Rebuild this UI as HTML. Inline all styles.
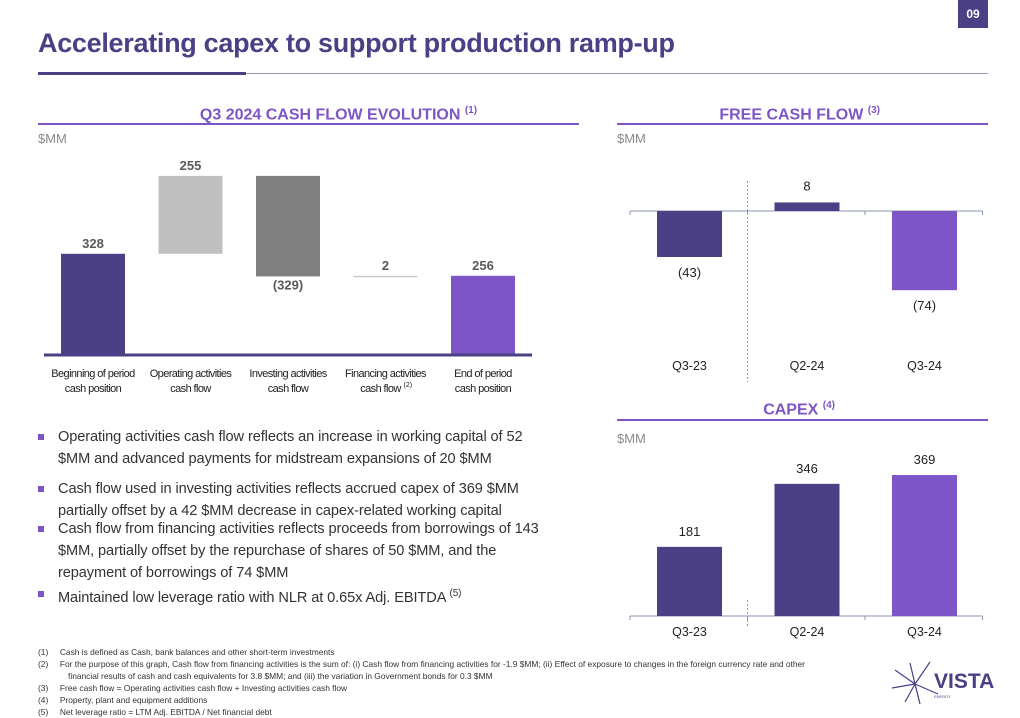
<!DOCTYPE html>
<html><head><meta charset="utf-8"><style>
body{margin:0;width:1020px;height:716px;background:#fff;font-family:"Liberation Sans",sans-serif;position:relative;overflow:hidden}
.abs{position:absolute}
.hdr{font-family:"Liberation Sans Narrow","Liberation Sans",sans-serif;font-weight:bold;color:#7d55c7;font-size:16px}
.mm{font-size:13px;color:#8a8a8a}
.bul{position:absolute;left:38px;font-size:14.6px;color:#333;line-height:22px;width:560px;letter-spacing:-0.1px}
.bul:before{content:"";position:absolute;left:0;top:8px;width:6px;height:6px;background:#7d55c7}
.bul span{display:block;padding-left:20px}
.fn{position:absolute;left:38px;top:647px;font-size:8.4px;color:#333;line-height:11.9px}
.fn div{padding-left:30px;text-indent:-30px;width:830px}
</style></head><body>
<div class="abs" style="left:958px;top:0;width:30px;height:28px;background:#4b3f86;color:#fff;font-weight:bold;font-size:12px;text-align:center;line-height:28px">09</div>
<div class="abs" style="left:38px;top:28px;font-size:27px;font-weight:bold;color:#4b3f86;letter-spacing:-0.3px">Accelerating capex to support production ramp-up</div>
<div class="abs" style="left:38px;top:73px;width:950px;height:1px;background:#9a98b0"></div>
<div class="abs" style="left:38px;top:72px;width:208px;height:3px;background:#4b3f86"></div>

<div class="abs hdr" style="left:38px;width:541px;top:105px;text-align:center;padding-left:60px;box-sizing:border-box">Q3 2024 CASH FLOW EVOLUTION <sup style="font-size:10px">(1)</sup></div>
<div class="abs" style="left:38px;top:123px;width:541px;height:2px;background:#7d55c7"></div>
<div class="abs mm" style="left:38px;top:131px">$MM</div>

<div class="abs hdr" style="left:617px;width:263px;top:105px;text-align:right">FREE CASH FLOW <sup style="font-size:10px">(3)</sup></div>
<div class="abs" style="left:617px;top:123px;width:371px;height:2px;background:#7d55c7"></div>
<div class="abs mm" style="left:617px;top:131px">$MM</div>

<div class="abs hdr" style="left:617px;width:218px;top:400px;text-align:right">CAPEX <sup style="font-size:10px">(4)</sup></div>
<div class="abs" style="left:617px;top:419px;width:371px;height:2px;background:#7d55c7"></div>
<div class="abs mm" style="left:617px;top:431px">$MM</div>

<svg class="abs" style="left:0;top:0" width="1020" height="716" id="svg"></svg>

<div class="bul" style="top:426px"><span>Operating activities cash flow reflects an increase in working capital of 52<br>$MM and advanced payments for midstream expansions of 20 $MM</span></div>
<div class="bul" style="top:478px"><span>Cash flow used in investing activities reflects accrued capex of 369 $MM<br>partially offset by a 42 $MM decrease in capex-related working capital</span></div>
<div class="bul" style="top:518px"><span>Cash flow from financing activities reflects proceeds from borrowings of 143<br>$MM, partially offset by the repurchase of shares of 50 $MM, and the<br>repayment of borrowings of 74 $MM</span></div>
<div class="bul" style="top:583px"><span>Maintained low leverage ratio with NLR at 0.65x Adj. EBITDA <sup style="font-size:10px">(5)</sup></span></div>

<div class="fn">
<div>(1)&nbsp;&nbsp;&nbsp;&nbsp;&nbsp;Cash is defined as Cash, bank balances and other short-term investments</div>
<div>(2)&nbsp;&nbsp;&nbsp;&nbsp;&nbsp;For the purpose of this graph, Cash flow from financing activities is the sum of: (i) Cash flow from financing activities for -1.9 $MM; (ii) Effect of exposure to changes in the foreign currency rate and other<br>financial results of cash and cash equivalents for 3.8 $MM; and (iii) the variation in Government bonds for 0.3 $MM</div>
<div>(3)&nbsp;&nbsp;&nbsp;&nbsp;&nbsp;Free cash flow = Operating activities cash flow + Investing activities cash flow</div>
<div>(4)&nbsp;&nbsp;&nbsp;&nbsp;&nbsp;Property, plant and equipment additions</div>
<div>(5)&nbsp;&nbsp;&nbsp;&nbsp;&nbsp;Net leverage ratio = LTM Adj. EBITDA / Net financial debt</div>
</div>

<div class="abs" style="left:890px;top:660px;width:100px;height:45px">
<svg width="50" height="45" style="position:absolute;left:0;top:0"><g stroke="#4b3f86" stroke-width="1.2"><line x1="25" y1="24" x2="5" y2="10"/><line x1="25" y1="24" x2="15" y2="42"/><line x1="25" y1="24" x2="40" y2="2"/><line x1="25" y1="24" x2="2" y2="28"/><line x1="25" y1="24" x2="30" y2="44"/><line x1="25" y1="24" x2="48" y2="34"/><line x1="25" y1="24" x2="20" y2="3"/></g></svg>
<div style="position:absolute;left:44px;top:10px;font-size:21px;font-weight:bold;color:#4b3f86">VISTA</div>
<div style="position:absolute;left:44px;top:34px;font-size:4px;color:#4b3f86">ENERGY</div>
</div>

<script>
const wfCats=["Beginning of period|cash position","Operating activities|cash flow","Investing activities|cash flow","Financing activities|cash flow","End of period|cash position"];
const wfValues=[328,255,-329,2,256];
const wfLabels=["328","255","(329)","2","256"];
const fcfCats=["Q3-23","Q2-24","Q3-24"];
const fcfValues=[-43,8,-74];
const fcfLabels=["(43)","8","(74)"];
const capexCats=["Q3-23","Q2-24","Q3-24"];
const capexValues=[181,346,369];
const capexLabels=["181","346","369"];

const svg=document.getElementById('svg');
const NS="http://www.w3.org/2000/svg";
function mk(tag,attrs,txt){const e=document.createElementNS(NS,tag);for(const k in attrs)e.setAttribute(k,attrs[k]);if(txt!==undefined)e.textContent=txt;svg.appendChild(e);return e;}

const wfBase=354, wfScale=0.3055, wfX0=61, wfStep=97.5, wfW=64;
const wy=v=>wfBase-v*wfScale;
const wfColors=["#4b3f86","#c0c0c0","#808080","#c8c8c8","#7d55c7"];
let run=0;
wfValues.forEach((v,i)=>{
  let top,bot;
  if(i===0||i===wfValues.length-1){top=wy(v);bot=wfBase;run=v;}
  else{const a=run,b=run+v;top=wy(Math.max(a,b));bot=wy(Math.min(a,b));run=b;}
  const x=wfX0+i*wfStep;
  let h=Math.max(bot-top,1.5);
  const r=mk('rect',{x:x,y:top,width:wfW,height:h,fill:wfColors[i]});
  
  
  const ly=v<0&&i>0&&i<wfValues.length-1?bot+13:top-6;
  const t=mk('text',{x:x+wfW/2,y:ly,'text-anchor':'middle','font-size':13,'font-weight':'bold',fill:'#595959'},wfLabels[i]);
  
  
  const parts=wfCats[i].split('|');
  parts.forEach((p,j)=>{
    const c=mk('text',{x:x+wfW/2-(i===3&&j===1?5:0),y:377+j*15,'text-anchor':'middle','font-size':11,fill:'#222','letter-spacing':'-0.6'},p);
    
    
    if(i===3&&j===1){mk('text',{x:x+wfW/2+18,y:387,'font-size':7,fill:'#222'},'(2)');}
  });
});
mk('line',{x1:44,y1:wfBase+1,x2:532,y2:wfBase+1,stroke:'#4b3f86','stroke-width':3});

const fBase=211,fScale=1.07,fX0=657,fStep=117.5,fW=65;
const axX=[630,747.5,865,982.5];
function axis(y){
  mk('line',{x1:630,y1:y,x2:982.5,y2:y,stroke:'#8a96b0','stroke-width':1});
  for(let k=0;k<4;k++) mk('line',{x1:630+k*fStep,y1:y,x2:630+k*fStep,y2:y+4,stroke:'#8a96b0','stroke-width':1});
}
axis(fBase);
const fColors=["#4b3f86","#4b3f86","#7d55c7"];
fcfValues.forEach((v,i)=>{
  const x=fX0+i*fStep;const top=v>0?fBase-v*fScale:fBase;const h=Math.abs(v)*fScale;
  const r=mk('rect',{x:x,y:top,width:fW,height:h,fill:fColors[i]});
  
  
  const ly=v>0?top-12:fBase+h+20;
  const t=mk('text',{x:x+fW/2,y:ly,'text-anchor':'middle','font-size':13,fill:'#222'},fcfLabels[i]);
  
  
  const c=mk('text',{x:x+fW/2,y:370,'text-anchor':'middle','font-size':12.5,fill:'#222'},fcfCats[i]);
  
  
});
mk('line',{x1:747.5,y1:181,x2:747.5,y2:382,stroke:'#999','stroke-width':1,'stroke-dasharray':'2,2'});

const cBase=616,cScale=0.382;
axis(cBase);
const cColors=["#4b3f86","#4b3f86","#7d55c7"];
capexValues.forEach((v,i)=>{
  const x=fX0+i*fStep;const h=v*cScale;
  const r=mk('rect',{x:x,y:cBase-h,width:fW,height:h,fill:cColors[i]});
  
  
  const t=mk('text',{x:x+fW/2,y:cBase-h-11,'text-anchor':'middle','font-size':13,fill:'#222'},capexLabels[i]);
  
  
  const c=mk('text',{x:x+fW/2,y:636,'text-anchor':'middle','font-size':12.5,fill:'#222'},capexCats[i]);
  
  
});
mk('line',{x1:747.5,y1:600,x2:747.5,y2:626,stroke:'#999','stroke-width':1,'stroke-dasharray':'2,2'});
</script>
</body></html>
